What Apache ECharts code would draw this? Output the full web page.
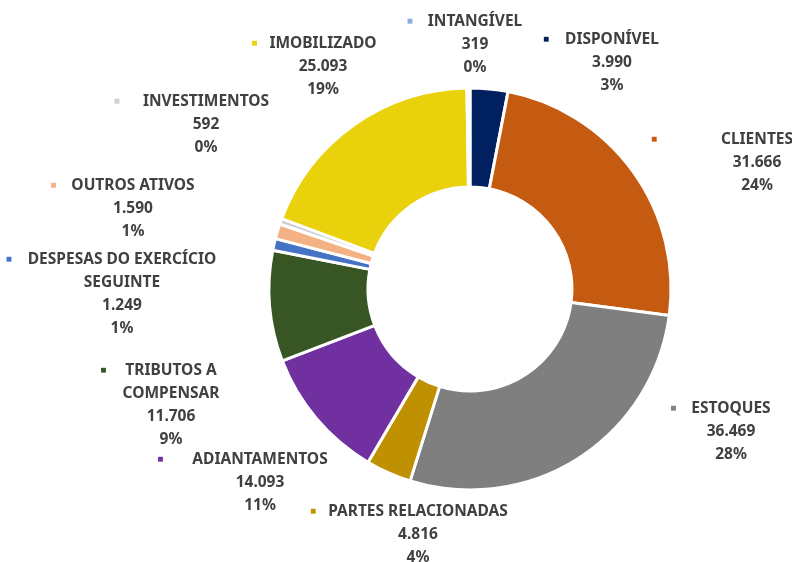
<!DOCTYPE html>
<html>
<head>
<meta charset="utf-8">
<script src="https://cdn.jsdelivr.net/npm/echarts@6/dist/echarts.min.js"></script>
<style>
html,body{margin:0;padding:0;background:#fff;}
#chart{width:792px;height:562px;}
</style>
</head>
<body>
<div id="chart"></div>
<script>
var categorias = ['DISPONÍVEL','CLIENTES','ESTOQUES','PARTES RELACIONADAS','ADIANTAMENTOS','TRIBUTOS A COMPENSAR','DESPESAS DO EXERCÍCIO SEGUINTE','OUTROS ATIVOS','INVESTIMENTOS','IMOBILIZADO','INTANGÍVEL'];
var valores = [3990,31666,36469,4816,14093,11706,1249,1590,592,25093,319];
var cores = ['#002060','#C55A11','#7F7F7F','#BF9000','#7030A0','#375623','#4472C4','#F4B183','#D0CECE','#E9D10C','#8FAADC'];

// posicao dos rotulos (centro x, topo y), espaco do marcador e quebras de linha
var posRotulo = [[612,28],[757,128],[731,397],[418,500],[260,448],[171,359],[122,248],[133,174],[206,90],[323,32],[475,10]];
var gapMarca = [16,64,15,12,29,19,16,15,23,12,15];
var quebra = {5:['TRIBUTOS A','COMPENSAR'], 6:['DESPESAS DO EXERCÍCIO','SEGUINTE']};

function fmt(v){
	return v.toString().replace(/\B(?=(\d{3})+(?!\d))/g, '.');
}

var dados = [];
var rich = {};
for(var i=0;i<categorias.length;i++){
	dados.push({name:categorias[i], value:valores[i], itemStyle:{color:cores[i]}});
	rich['mk'+i] = {color:cores[i], fontSize:10, width:2*gapMarca[i]+6, align:'center'};
	rich['sp'+i] = {width:2*gapMarca[i]+6, align:'center'};
}

var myChart = echarts.init(document.getElementById('chart'));
var option = {
	animation:false,
	backgroundColor:'#fff',
	series:[{
		type:'pie',
		center:[470,289],
		radius:[102,201],
		startAngle:90,
		clockwise:true,
		avoidLabelOverlap:false,
		emphasis:{disabled:true},
		itemStyle:{borderColor:'#fff', borderWidth:3},
		labelLine:{show:false},
		label:{
			show:true,
			position:'outside',
			fontFamily:'Noto Sans',
			fontWeight:'bold',
			fontSize:15.5,
			lineHeight:23,
			color:'#404040',
			align:'center',
			rich:rich,
			formatter:function(p){
				var i = p.dataIndex;
				var linhas = quebra[i] || [p.name];
				var s = '{mk'+i+'|■}' + linhas[0] + '{sp'+i+'| }';
				for(var k=1;k<linhas.length;k++) s += '\n' + linhas[k];
				s += '\n' + fmt(p.value) + '\n' + Math.round(p.percent) + '%';
				return s;
			}
		},
		labelLayout:function(p){
			var q = posRotulo[p.dataIndex];
			return {x:q[0], y:q[1], align:'center', verticalAlign:'top'};
		},
		data:dados
	}]
};
myChart.setOption(option);
</script>
</body>
</html>
